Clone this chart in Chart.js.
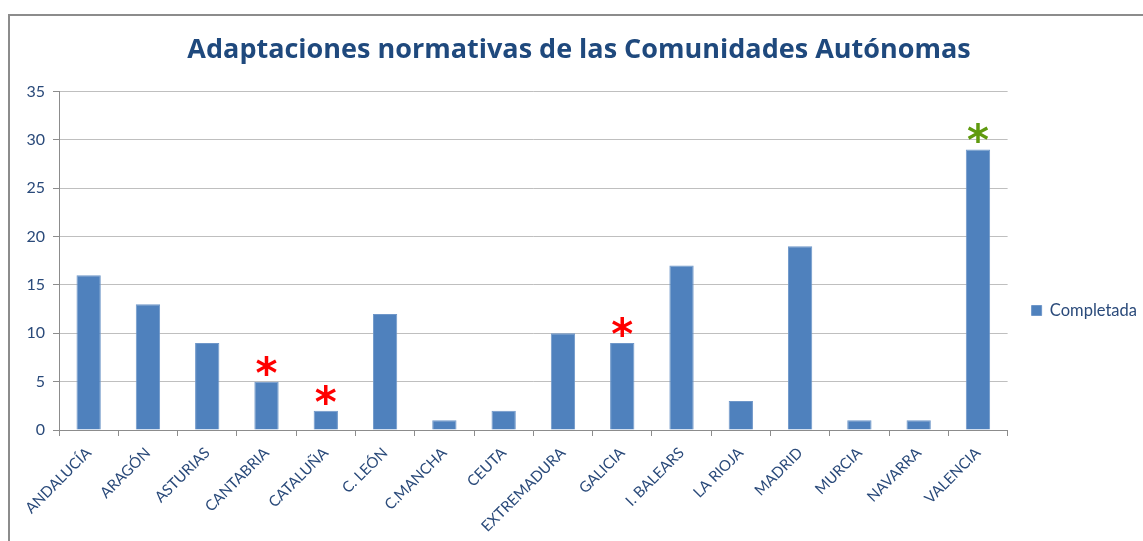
<!DOCTYPE html>
<html lang="es">
<head>
<meta charset="UTF-8">
<title>Adaptaciones normativas</title>
<script src="https://cdn.jsdelivr.net/npm/chart.js"></script>
<style>
  html, body { margin: 0; padding: 0; background: #fff; }
  #frame { position: absolute; left: 8px; top: 14px; width: 1140px; height: 540px; border: 2px solid #8c8c8c; box-sizing: border-box; }
  #wrap { position: absolute; left: 0; top: 0; width: 1143px; height: 541px; }
</style>
</head>
<body>
<div id="frame"></div>
<div id="wrap"><canvas id="chart"></canvas></div>
<script>
const categories = ['ANDALUCÍA', 'ARAGÓN', 'ASTURIAS', 'CANTABRIA', 'CATALUÑA', 'C. LEÓN', 'C.MANCHA', 'CEUTA',
  'EXTREMADURA', 'GALICIA', 'I. BALEARS', 'LA RIOJA', 'MADRID', 'MURCIA', 'NAVARRA', 'VALENCIA'];
const completada = [16, 13, 9, 5, 2, 12, 1, 2, 10, 9, 17, 3, 19, 1, 1, 29];
// asterisk colour for each category, null = no mark
const marks = [null, null, null, 'red', 'red', null, null, null, null, 'red', null, null, null, null, null, '#5f9a0f'];
const yTicks = [0, 5, 10, 15, 20, 25, 30, 35];

const textBlue = '#2a4a7a';

const asterisks = {
  id: 'asterisks',
  afterLayout(chart) {
    // move the legend to where the original one sits
    const lg = chart.legend;
    if (lg) { lg.top += 23; lg.bottom += 23; lg.left += 5; lg.right += 5; }
  },
  afterDatasetsDraw(chart) {
    const ctx = chart.ctx;
    const meta = chart.getDatasetMeta(0);
    ctx.save();
    ctx.font = 'bold 42px "DejaVu Sans"';
    ctx.textAlign = 'center';
    ctx.textBaseline = 'middle';
    meta.data.forEach((bar, i) => {
      if (!marks[i]) return;
      ctx.fillStyle = marks[i];
      ctx.fillText('*', bar.x, bar.y - 5);
    });
    ctx.restore();
  }
};

new Chart(document.getElementById('chart'), {
  type: 'bar',
  data: {
    labels: categories,
    datasets: [{
      label: 'Completada',
      data: completada,
      backgroundColor: '#4f81bd',
      borderColor: '#6f97c9',
      borderWidth: 1,
      barPercentage: 0.41,
      categoryPercentage: 1
    }]
  },
  options: {
    responsive: true,
    maintainAspectRatio: false,
    animation: false,
    layout: { padding: { left: 16, top: 34, right: 1, bottom: 0 } },
    plugins: {
      title: {
        display: true,
        text: 'Adaptaciones normativas de las Comunidades Autónomas',
        color: '#1f497d',
        font: { family: 'Open Sans', size: 27, weight: 'bold' },
        padding: { top: 0, bottom: 25 }
      },
      legend: {
        position: 'right',
        labels: {
          color: textBlue,
          boxWidth: 10,
          boxHeight: 10,
          padding: 19,
          font: { family: 'Lato', size: 16.5 }
        }
      },
      tooltip: { enabled: false }
    },
    scales: {
      x: {
        offset: true,
        afterFit(axis) { axis.height = 111; },
        grid: { display: true, drawOnChartArea: false, offset: true, color: '#8c8c8c', tickLength: 6 },
        border: { color: '#8c8c8c' },
        ticks: {
          color: textBlue,
          maxRotation: 45,
          minRotation: 45,
          autoSkip: false,
          padding: 8,
          font: { family: 'Lato', size: 15 }
        }
      },
      y: {
        min: 0,
        max: 35,
        afterBuildTicks(axis) { axis.ticks = yTicks.map(v => ({ value: v })); },
        afterFit(axis) { axis.width = 43; },
        grid: { color: '#bfbfbf', tickLength: 6, tickColor: '#8c8c8c' },
        border: { color: '#8c8c8c' },
        ticks: { color: textBlue, padding: 8, font: { family: 'Lato', size: 16 } }
      }
    }
  },
  plugins: [asterisks]
});
</script>
</body>
</html>
